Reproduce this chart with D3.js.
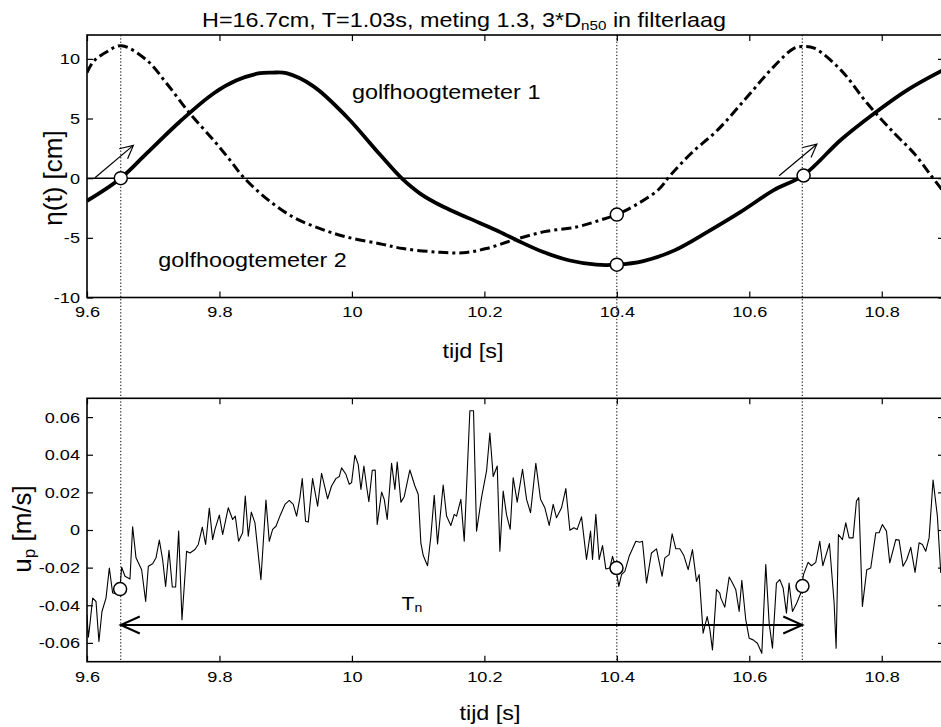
<!DOCTYPE html>
<html>
<head>
<meta charset="utf-8">
<script src="https://cdn.jsdelivr.net/npm/d3@7"></script>
<style>
  body { margin: 0; background: #fff; }
  svg { display: block; font-family: "Liberation Sans", Arial, Helvetica, sans-serif; }
</style>
</head>
<body>
<div id="chart"></div>
<script>
// ---- data ----
const tijdTicks = [9.6, 9.8, 10, 10.2, 10.4, 10.6, 10.8];
const etaTicks = [-10, -5, 0, 5, 10];
const upTicks = [-0.06, -0.04, -0.02, 0, 0.02, 0.04, 0.06];

// golfhoogtemeter 1 (solid)
const g1T   = [9.600, 9.651, 9.690, 9.740, 9.791, 9.826, 9.861, 9.880, 9.901, 9.942, 9.992, 10.042, 10.075, 10.103, 10.138, 10.178, 10.218, 10.249, 10.289, 10.329, 10.369, 10.400, 10.440, 10.487, 10.537, 10.587, 10.637, 10.682, 10.738, 10.788, 10.839, 10.894];
const g1Eta = [-1.9, 0.0, 2.07, 4.73, 7.1, 8.2, 8.8, 8.85, 8.8, 7.7, 5.15, 2.0, 0.0, -1.29, -2.4, -3.39, -4.37, -5.2, -6.19, -6.9, -7.25, -7.25, -6.95, -6.05, -4.5, -2.83, -1.0, 0.25, 3.2, 5.4, 7.4, 9.1];

// golfhoogtemeter 2 (dash-dot)
const g2T   = [9.600, 9.610, 9.630, 9.652, 9.690, 9.720, 9.755, 9.791, 9.816, 9.836, 9.871, 9.911, 9.952, 9.992, 10.042, 10.077, 10.128, 10.168, 10.203, 10.243, 10.289, 10.339, 10.374, 10.400, 10.433, 10.463, 10.481, 10.512, 10.552, 10.597, 10.637, 10.668, 10.682, 10.698, 10.738, 10.778, 10.819, 10.849, 10.874, 10.894];
const g2Eta = [8.85, 9.8, 10.6, 11.1, 9.9, 7.96, 5.44, 3.19, 1.51, 0.1, -1.71, -3.25, -4.23, -4.93, -5.49, -5.9, -6.19, -6.25, -5.9, -5.2, -4.5, -4.09, -3.53, -3.05, -2.1, -0.95, 0.25, 2.07, 4.03, 6.83, 9.35, 10.9, 11.03, 10.9, 9.08, 6.28, 3.76, 2.07, 0.25, -1.2];

// u_p (noisy)
const upT = [
  9.600, 9.602, 9.6035, 9.6086, 9.6136, 9.618, 9.6226, 9.6287, 9.6337, 9.6387, 9.6448, 9.650, 9.6523, 9.6574, 9.6649, 9.6689, 9.674, 9.6825, 9.6886, 9.6926,
  9.6991, 9.7042, 9.7092, 9.7142, 9.7187, 9.7238, 9.7288, 9.7338, 9.7384, 9.7434, 9.7504, 9.7555, 9.763, 9.7681, 9.7741, 9.7791, 9.7847, 9.7897, 9.7932, 9.7998,
  9.8048, 9.8133, 9.8199, 9.8239, 9.8289, 9.835, 9.839, 9.8435, 9.8481, 9.8536, 9.8626, 9.8702, 9.8752, 9.8803, 9.8853, 9.8913, 9.8989, 9.9054, 9.9114, 9.9165,
  9.9215, 9.925, 9.930, 9.9341, 9.9406, 9.9482, 9.9542, 9.9633, 9.9693, 9.9758, 9.9809, 9.9844, 9.9909, 9.996, 9.9995, 10.0045, 10.0095, 10.0136, 10.0181, 10.0221,
  10.0256, 10.0307, 10.0352, 10.0382, 10.0448, 10.0488, 10.0533, 10.0599, 10.0649, 10.0684, 10.074, 10.079, 10.0875, 10.0951, 10.1001, 10.1041, 10.1077, 10.1142, 10.1192, 10.1243,
  10.1293, 10.1378, 10.1429, 10.1494, 10.1545, 10.158, 10.1645, 10.1696, 10.1781, 10.1836, 10.1882, 10.1957, 10.2033, 10.2083, 10.2133, 10.2194, 10.2234, 10.2284, 10.2335, 10.239,
  10.2435, 10.2496, 10.2576, 10.2637, 10.2697, 10.2777, 10.2848, 10.2913, 10.2979, 10.3039, 10.3089, 10.3165, 10.323, 10.3291, 10.3351, 10.3401, 10.3467, 10.3542, 10.3603, 10.3633,
  10.3683, 10.3733, 10.3784, 10.3834, 10.3894, 10.3935, 10.3985, 10.403, 10.4071, 10.4121, 10.4186, 10.4287, 10.4347, 10.4387, 10.4448, 10.4523, 10.4599, 10.4684, 10.4725, 10.479,
  10.4835, 10.4891, 10.4951, 10.5012, 10.5077, 10.5142, 10.5203, 10.5243, 10.5303, 10.5364, 10.5404, 10.5444, 10.5505, 10.5555, 10.557, 10.563, 10.5696, 10.5746, 10.5796, 10.5847,
  10.5887, 10.5947, 10.5998, 10.6058, 10.6123, 10.6189, 10.6249, 10.630, 10.635, 10.641, 10.6461, 10.6511, 10.6561, 10.6601, 10.6652, 10.6717, 10.6778, 10.6818, 10.6888, 10.6939,
  10.7004, 10.7064, 10.711, 10.721, 10.7281, 10.7311, 10.7346, 10.7406, 10.7457, 10.7507, 10.7567, 10.7618, 10.7653, 10.7708, 10.7774, 10.7834, 10.791, 10.796, 10.801, 10.8071,
  10.8121, 10.8212, 10.8262, 10.8322, 10.8378, 10.8438, 10.8503, 10.8564, 10.8614, 10.8664, 10.8715, 10.8775, 10.884, 10.8891
];
const upVal = [
  -0.045, -0.057, -0.053, -0.0362, -0.038, -0.0593, -0.0433, -0.0362, -0.0202, -0.0335, -0.0339, -0.030, -0.0198, -0.0246, -0.026, 0.0017, -0.0148, -0.0211, -0.038, -0.0193,
  -0.0179, -0.0148, -0.0054, -0.0157, -0.030, -0.0108, -0.0303, -0.0303, -0.0006, -0.0477, -0.0113, -0.0122, -0.0104, -0.0077, 0.0015, -0.0077, 0.0116, -0.0051, 0.0003, 0.0079,
  -0.0024, 0.0118, 0.0056, 0.0074, -0.006, -0.0015, 0.018, -0.0033, 0.0095, 0.0038, -0.0264, 0.0159, -0.006, 0.0003, 0.002, 0.0074, 0.0136, 0.0157, 0.0136, 0.0074,
  0.0172, 0.0273, 0.0047, 0.0042, 0.0273, 0.0127, 0.0301, 0.0166, 0.0234, 0.0273, 0.0284, 0.033, 0.0296, 0.0243, 0.0252, 0.0397, 0.0349, 0.0216, 0.034, 0.0234,
  0.015, 0.0317, 0.0319, 0.0029, 0.0202, 0.0163, 0.0056, 0.0355, 0.0216, 0.0361, 0.0148, 0.0177, 0.0319, 0.0234, 0.019, -0.0068, -0.0136, -0.019, -0.0033, 0.0184,
  -0.0074, 0.0239, 0.0074, 0.0024, 0.0083, 0.0074, 0.0163, -0.006, 0.0634, 0.0634, -0.0006, 0.0172, 0.0314, 0.0515, 0.0284, 0.034, -0.0113, 0.0207, 0.008, 0.0004,
  0.0278, 0.0148, 0.0323, 0.0163, 0.0092, 0.0355, 0.0163, 0.0118, 0.0024, 0.0136, 0.0065, 0.0118, 0.022, -0.0001, 0.0012, 0.0003, 0.007, -0.0157, -0.0006, -0.0157,
  0.0083, -0.0157, -0.0083, -0.0207, -0.0202, -0.014, -0.0202, -0.030, -0.0237, -0.022, -0.014, -0.006, -0.0065, -0.006, -0.0282, -0.0122, -0.010, -0.0246, -0.0148, -0.0131,
  -0.002, -0.010, -0.010, -0.0136, -0.0211, -0.0104, -0.0273, -0.0237, -0.0548, -0.046, -0.0527, -0.0637, -0.0317, -0.0335, -0.0362, -0.041, -0.025, -0.0282, -0.0317, -0.0433,
  -0.0268, -0.0477, -0.0575, -0.0584, -0.0602, -0.0655, -0.0184, -0.0495, -0.0628, -0.0282, -0.0264, -0.0308, -0.0442, -0.0282, -0.0433, -0.0388, -0.0335, -0.0237, -0.0172, -0.019,
  -0.0172, -0.006, -0.019, -0.0072, -0.0388, -0.0628, -0.0024, -0.0051, 0.0038, -0.0042, -0.0042, 0.0154, 0.0172, -0.0406, -0.0211, -0.0202, -0.0015, -0.0015, 0.0029, -0.0006,
  -0.0175, -0.0051, -0.0054, -0.0193, -0.0157, -0.0092, -0.0225, -0.0068, -0.0077, -0.0113, -0.0042, 0.0266, 0.0074, -0.0228
];

// marked instants and circles
const markTimes = [9.651, 10.4, 10.68];
const etaMarkT = [9.651, 10.4, 10.4, 10.682];
const etaMarkV = [0.0, -3.05, -7.25, 0.22];
const upMarkT = [9.65, 10.3995, 10.6803];
const upMarkV = [-0.0314, -0.0202, -0.0298];

// ---- layout ----
const W = 941, H = 727;
const SX = 1.17; // the scanned figure is stretched horizontally
const panelTop = {y0: 35, y1: 297.5};
const panelBot = {y0: 398.3, y1: 661.7};
const xL = 87, xR = 944;

const svg = d3.select("#chart").append("svg")
  .attr("width", W).attr("height", H)
  .attr("viewBox", `0 0 ${W} ${H}`);

const x = d3.scaleLinear().domain([9.6, 10.894]).range([xL, xR]);
const yEta = d3.scaleLinear().domain([-10, 12]).range([panelTop.y1, panelTop.y0]);
const yUp = d3.scaleLinear().domain([-0.07, 0.07]).range([panelBot.y1, panelBot.y0]);

// stretched text helper
function sText(g, px, py, anchor, size) {
  return g.append("text")
    .attr("transform", `translate(${px},${py}) scale(${SX},1)`)
    .attr("text-anchor", anchor)
    .attr("font-size", size)
    .attr("fill", "#000");
}

function arrowHead(g, x1, y1, x2, y2, len, spread, sw) {
  const a = Math.atan2(y2 - y1, x2 - x1);
  const bx = x2 - len * Math.cos(a), by = y2 - len * Math.sin(a);
  const nx = -Math.sin(a) * spread, ny = Math.cos(a) * spread;
  g.append("path")
    .attr("d", `M${bx + nx},${by + ny}L${x2},${y2}L${bx - nx},${by - ny}`)
    .attr("fill", "none").attr("stroke", "#000").attr("stroke-width", sw);
}

// frame, ticks and tick labels of one panel
function panel(y, yTicks) {
  const g = svg.append("g");
  const [yb, yt] = y.range();

  g.append("g").attr("transform", `translate(0,${yb})`)
    .call(d3.axisBottom(x).tickValues(tijdTicks).tickSizeInner(-6).tickSizeOuter(0)
      .tickPadding(9).tickFormat(d => String(d)));
  g.append("g").attr("transform", `translate(${xL},0)`)
    .call(d3.axisLeft(y).tickValues(yTicks).tickSizeInner(-6).tickSizeOuter(0)
      .tickPadding(6).tickFormat(d => String(d)));
  g.append("g").attr("transform", `translate(0,${yt})`)
    .call(d3.axisTop(x).tickValues(tijdTicks).tickSizeInner(-6).tickSizeOuter(0).tickFormat(""));
  g.append("g").attr("transform", `translate(${xR},0)`)
    .call(d3.axisRight(y).tickValues(yTicks).tickSizeInner(-6).tickSizeOuter(0).tickFormat(""));

  g.selectAll(".domain").remove();
  g.selectAll(".tick line").attr("stroke", "#000").attr("stroke-width", 1.2);
  g.selectAll("g").attr("font-family", null).attr("font-size", null);
  g.selectAll(".tick text").attr("font-size", 15.5).attr("fill", "#000")
    .attr("transform", `scale(${SX},1)`);

  g.append("rect")
    .attr("x", xL).attr("y", yt)
    .attr("width", xR - xL).attr("height", yb - yt)
    .attr("fill", "none").attr("stroke", "#000").attr("stroke-width", 1.6);
  return g;
}

// clip paths
const defs = svg.append("defs");
defs.append("clipPath").attr("id", "clipTop").append("rect")
  .attr("x", xL).attr("y", panelTop.y0).attr("width", xR - xL).attr("height", panelTop.y1 - panelTop.y0);
defs.append("clipPath").attr("id", "clipBot").append("rect")
  .attr("x", xL).attr("y", panelBot.y0).attr("width", xR - xL).attr("height", panelBot.y1 - panelBot.y0);

// vertical dotted markers across both panels
svg.append("g").selectAll("line")
  .data(markTimes).enter().append("line")
  .attr("x1", d => x(d)).attr("x2", d => x(d))
  .attr("y1", panelTop.y0).attr("y2", panelBot.y1)
  .attr("stroke", "#000").attr("stroke-width", 1)
  .attr("stroke-dasharray", "1.3,2");

// ---- top panel ----
panel(yEta, etaTicks);
const topG = svg.append("g").attr("clip-path", "url(#clipTop)");

topG.append("line")
  .attr("x1", xL).attr("x2", xR)
  .attr("y1", yEta(0)).attr("y2", yEta(0))
  .attr("stroke", "#000").attr("stroke-width", 1.6);

const etaLine = (ts, vs) => d3.line()
  .curve(d3.curveCatmullRom)
  .x((d, i) => x(ts[i]))
  .y((d, i) => yEta(vs[i]))(ts);

topG.append("path")
  .attr("d", etaLine(g2T, g2Eta))
  .attr("fill", "none").attr("stroke", "#000").attr("stroke-width", 3)
  .attr("stroke-dasharray", "10,4,3,4");

topG.append("path")
  .attr("d", etaLine(g1T, g1Eta))
  .attr("fill", "none").attr("stroke", "#000").attr("stroke-width", 3.8);

// up-crossing arrows
const arrFromT = [9.612, 10.645], arrFromV = [0.04, 0.2];
const arrToT = [9.670, 10.702], arrToV = [2.75, 2.85];
arrFromT.forEach((t, i) => {
  const x1 = x(t), y1 = yEta(arrFromV[i]), x2 = x(arrToT[i]), y2 = yEta(arrToV[i]);
  topG.append("line").attr("x1", x1).attr("y1", y1).attr("x2", x2).attr("y2", y2)
    .attr("stroke", "#000").attr("stroke-width", 1.2);
  arrowHead(topG, x1, y1, x2, y2, 13, 6.5, 1.2);
});

topG.selectAll("circle")
  .data(etaMarkT).enter().append("circle")
  .attr("cx", d => x(d)).attr("cy", (d, i) => yEta(etaMarkV[i]))
  .attr("r", 6.5)
  .attr("fill", "#fff").attr("stroke", "#000").attr("stroke-width", 1.5);

sText(svg, x(10.0), yEta(6.6), "start", 20).text("golfhoogtemeter 1");
sText(svg, x(9.7077), yEta(-7.47), "start", 20).text("golfhoogtemeter 2");

// ---- bottom panel ----
panel(yUp, upTicks);
const botG = svg.append("g").attr("clip-path", "url(#clipBot)");

botG.append("path")
  .attr("d", d3.line().x((d, i) => x(upT[i])).y((d, i) => yUp(upVal[i]))(upT))
  .attr("fill", "none").attr("stroke", "#000").attr("stroke-width", 1.1)
  .attr("stroke-linejoin", "round");

botG.selectAll("circle")
  .data(upMarkT).enter().append("circle")
  .attr("cx", d => x(d)).attr("cy", (d, i) => yUp(upMarkV[i]))
  .attr("r", 6.5)
  .attr("fill", "#fff").attr("stroke", "#000").attr("stroke-width", 1.5);

// T_n double arrow
const tnY = yUp(-0.0505);
const tnX1 = x(markTimes[0]), tnX2 = x(markTimes[2]);
botG.append("line").attr("x1", tnX1).attr("x2", tnX2).attr("y1", tnY).attr("y2", tnY)
  .attr("stroke", "#000").attr("stroke-width", 2.2);
arrowHead(botG, tnX2, tnY, tnX1, tnY, 19, 8.5, 2);
arrowHead(botG, tnX1, tnY, tnX2, tnY, 19, 8.5, 2);

const tn = sText(svg, x(10.075), yUp(-0.0425), "start", 18);
tn.append("tspan").text("T");
tn.append("tspan").attr("font-size", 12).attr("dy", 2).text("n");

// ---- titles and axis labels ----
const title = sText(svg, 464, 27, "middle", 20);
title.append("tspan").text("H=16.7cm, T=1.03s, meting 1.3, 3*D");
title.append("tspan").attr("font-size", 13).attr("dy", 3).text("n50");
title.append("tspan").attr("dy", -3).text(" in filterlaag");

sText(svg, 473, 358, "middle", 20).text("tijd [s]");
sText(svg, 490, 720, "middle", 20).text("tijd [s]");

svg.append("text")
  .attr("transform", "translate(62,178) rotate(-90)")
  .attr("text-anchor", "middle").attr("font-size", 26)
  .text("η(t) [cm]");

const upLab = svg.append("text")
  .attr("transform", "translate(31,529) rotate(-90)")
  .attr("text-anchor", "middle").attr("font-size", 26);
upLab.append("tspan").text("u");
upLab.append("tspan").attr("font-size", 17).attr("dy", 4).text("p");
upLab.append("tspan").attr("dy", -4).text(" [m/s]");
</script>
</body>
</html>
